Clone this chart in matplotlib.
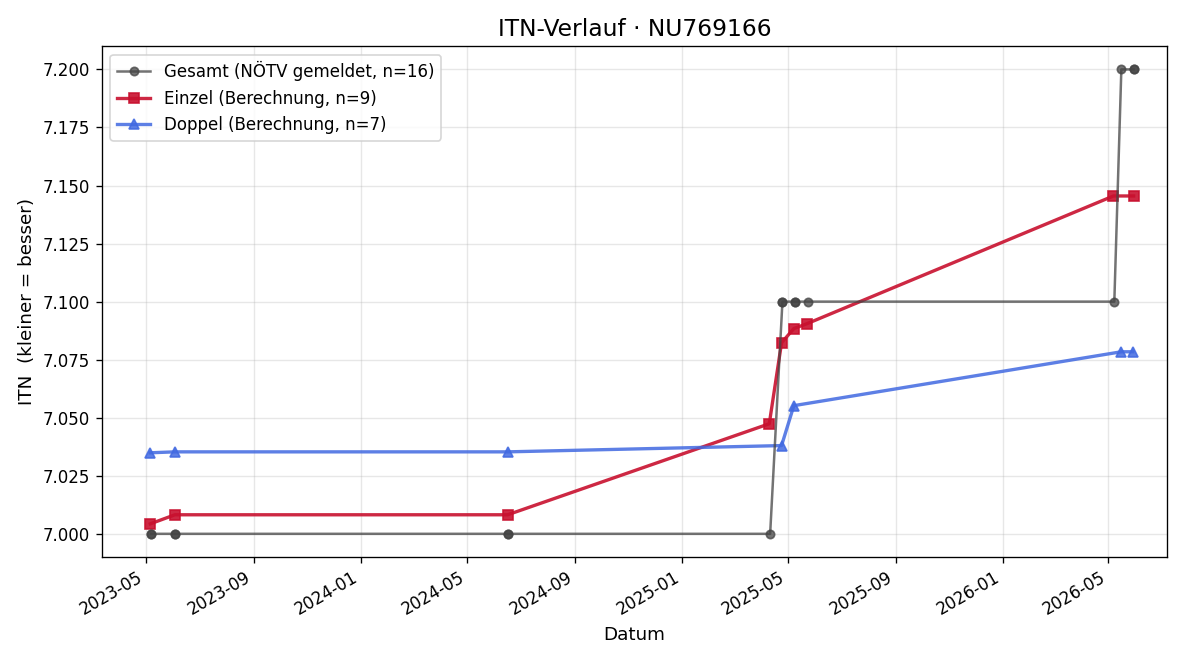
import matplotlib
matplotlib.use("Agg")
import matplotlib.pyplot as plt
import matplotlib.dates as mdates
import pandas as pd

gesamt_dates = ["2023-05-07", "2023-05-07", "2023-06-03", "2023-06-03", "2024-06-16", "2024-06-16",
                "2025-04-11", "2025-04-25", "2025-04-25", "2025-05-09", "2025-05-09", "2025-05-24",
                "2026-05-08", "2026-05-16", "2026-05-30", "2026-05-30"]
gesamt_vals = [7.0, 7.0, 7.0, 7.0, 7.0, 7.0,
               7.0, 7.1, 7.1, 7.1, 7.1, 7.1,
               7.1, 7.2, 7.2, 7.2]

einzel_dates = ["2023-05-06", "2023-06-03", "2024-06-16", "2025-04-10", "2025-04-24",
                "2025-05-08", "2025-05-23", "2026-05-07", "2026-05-30"]
einzel_vals = [7.0043, 7.0082, 7.0082, 7.0474, 7.0823, 7.0884, 7.0905, 7.1455, 7.1455]

doppel_dates = ["2023-05-06", "2023-06-03", "2024-06-16", "2025-04-24", "2025-05-08",
                "2026-05-16", "2026-05-29"]
doppel_vals = [7.0349, 7.0353, 7.0353, 7.0380, 7.0552, 7.0784, 7.0784]

fig = plt.figure(figsize=(10, 5.5), dpi=120)
ax = fig.add_axes([0.085, 0.156, 0.8875, 0.774])

ax.plot(pd.to_datetime(gesamt_dates), gesamt_vals, marker="o", color="#444444", alpha=0.75,
        linewidth=1.5, markersize=5, label="Gesamt (NÖTV gemeldet, n=16)", zorder=3)
ax.plot(pd.to_datetime(einzel_dates), einzel_vals, marker="s", color="#c8102e", alpha=0.9,
        linewidth=2, markersize=6, label="Einzel (Berechnung, n=9)", zorder=2)
ax.plot(pd.to_datetime(doppel_dates), doppel_vals, marker="^", color="#4169e1", alpha=0.85,
        linewidth=2, markersize=6, label="Doppel (Berechnung, n=7)", zorder=2)

ax.set_xlim(pd.Timestamp("2023-03-12"), pd.Timestamp("2026-07-07"))
ax.xaxis.set_major_locator(mdates.MonthLocator(bymonth=[1, 5, 9]))
ax.xaxis.set_major_formatter(mdates.DateFormatter("%Y-%m"))
for lbl in ax.get_xticklabels():
    lbl.set_rotation(30)
    lbl.set_ha("right")
ax.yaxis.set_major_formatter(matplotlib.ticker.FormatStrFormatter("%.3f"))
ax.grid(True, alpha=0.3)
ax.set_title("ITN-Verlauf · NU769166", fontsize=14)
ax.set_xlabel("Datum", fontsize=11)
ax.set_ylabel("ITN  (kleiner = besser)", fontsize=11)
ax.legend(loc="upper left", fontsize=10)

fig.savefig("out.png", dpi=120)
